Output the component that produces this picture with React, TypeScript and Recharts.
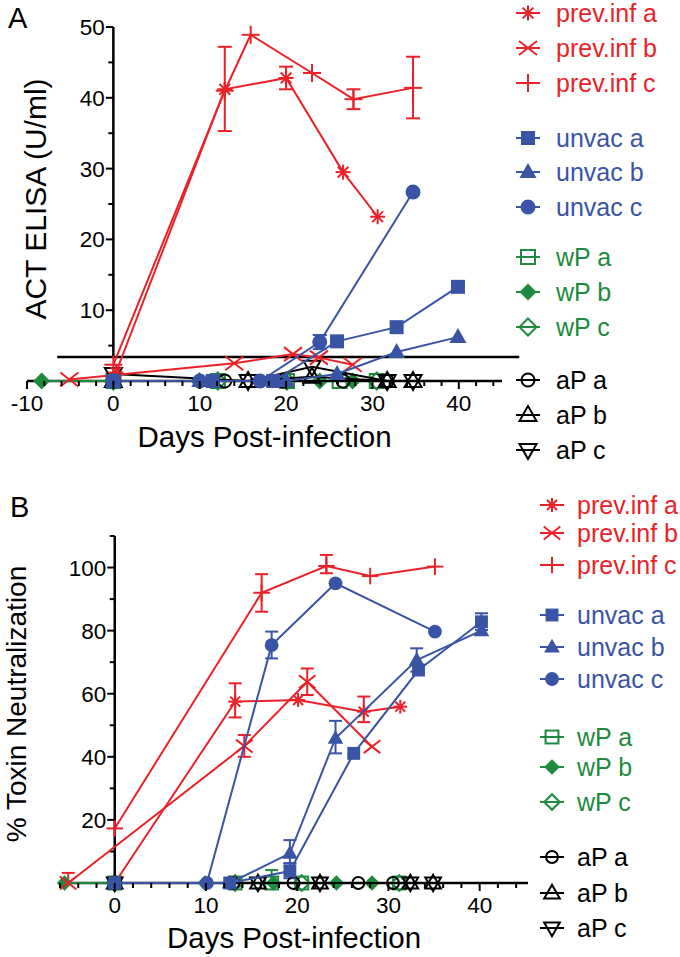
import React from 'react';
import { ScatterChart, Scatter, XAxis, YAxis, ErrorBar, ReferenceLine, Legend } from 'recharts';

// [day, value, error low, error high]
type Pt = [number, number, number?, number?];

// ---- panel A: ACT ELISA (U/ml)
const elisaPrevInfA: Pt[] = [[0.3, 1.2], [12.9, 41.2, 35.3, 47.2], [20, 42.8, 41.2, 44.4], [26.6, 29.5], [30.6, 23.2]];
const elisaPrevInfB: Pt[] = [[-5.1, 0.2], [14, 2.5], [20.8, 3.8], [23.8, 3.3], [27.7, 2.3]];
const elisaPrevInfC: Pt[] = [[0, 2.3], [12.9, 41], [15.9, 48.9], [23, 43.5], [27.8, 39.8, 38.4, 41.2], [34.7, 41.4, 37.1, 45.8]];
const elisaUnvacA: Pt[] = [[0, 0], [11.5, 0], [18.5, 0], [25.9, 5.6], [32.8, 7.6], [39.9, 13.3]];
const elisaUnvacB: Pt[] = [[0, 0], [10, 0], [20, 0], [25.9, 1.0], [32.8, 4.1], [39.9, 6.2]];
const elisaUnvacC: Pt[] = [[0, 0], [10, 0], [17, 0], [23.9, 5.5, 4.5, 6.5], [34.7, 26.7]];
const elisaWpA: Pt[] = [[0, 0], [12.1, 0], [20.1, 0], [26.2, 0], [30.5, 0]];
const elisaWpB: Pt[] = [[-8.3, 0], [9.9, 0], [23.9, 0], [27.7, 0]];
const elisaWpC: Pt[] = [[0, 0], [12.1, 0], [20.1, 0], [30.5, 0]];
const elisaApA: Pt[] = [[0, 0], [12.9, 0], [19.6, 0], [26.6, 0], [31.7, 0]];
const elisaApB: Pt[] = [[0, 0], [15.6, 0], [23, 0.6], [31.7, 0], [34.7, 0]];
const elisaApC: Pt[] = [[0, 1], [15.6, 0], [23, 2.0], [31.7, 0], [34.7, 0]];
const elisaLod = 3.4;

const elisaXTicks = [-10, -8, -6, -4, -2, 0, 2, 4, 6, 8, 10, 12, 14, 16, 18, 20, 22, 24, 26, 28, 30, 32, 34, 36, 38, 40, 42, 44];
const elisaXLabels = [-10, 0, 10, 20, 30, 40];
const elisaYTicks = [5, 10, 15, 20, 25, 30, 35, 40, 45, 50];
const elisaYLabels = [10, 20, 30, 40, 50];

// ---- panel B: % Toxin Neutralization
const neutPrevInfA: Pt[] = [[0, 0], [13.2, 57.5, 52.5, 63.3], [20.1, 58], [27.3, 54.3, 51, 59.1], [31.3, 55.9]];
const neutPrevInfB: Pt[] = [[-5.1, 0, 0, 3.2], [14.2, 43.4, 40, 46.9], [21.1, 63.8, 59.6, 68], [28.2, 43.2]];
const neutPrevInfC: Pt[] = [[0, 17.3], [16.1, 92, 86, 97.9], [23.2, 100.5, 98.2, 104], [28, 97.3], [35.1, 100.3]];
const neutUnvacA: Pt[] = [[0, 0], [12.6, 0], [19.2, 3.8, 1.5, 6.3], [26.2, 41.1], [33.3, 67.5], [40.2, 82.8, 80.2, 85.5]];
const neutUnvacB: Pt[] = [[0, 0], [12.6, 0], [19.2, 9.4, 6.2, 13.6], [24.2, 45.9, 41.1, 51.4], [33.1, 70.7, 67, 74.4], [40.2, 80]];
const neutUnvacC: Pt[] = [[0, 0], [10.1, 0], [17.2, 75.4, 71.2, 79.7], [24.2, 95], [35.1, 79.7]];
const neutWpA: Pt[] = [[0, 0], [13.2, 0], [17.2, 0, 0, 4.1], [20.5, 0], [31.2, 0]];
const neutWpB: Pt[] = [[-5.5, 0], [9.9, 0], [17.4, 0], [24.3, 0], [28.2, 0]];
const neutWpC: Pt[] = [[0, 0], [13.2, 0], [20.5, 0], [31.2, 0]];
const neutApA: Pt[] = [[0, 0], [13, 0], [19.6, 0], [26.7, 0], [30.5, 0]];
const neutApB: Pt[] = [[0, 0], [15.7, 0], [22.5, 0], [32.4, 0], [34.9, 0]];
const neutApC: Pt[] = [[0, 0], [15.7, 0], [22.5, 0], [32.4, 0], [34.9, 0]];

const neutXTicks = [-6, -4, -2, 0, 2, 4, 6, 8, 10, 12, 14, 16, 18, 20, 22, 24, 26, 28, 30, 32, 34, 36, 38, 40, 42, 44];
const neutXLabels = [0, 10, 20, 30, 40];
const neutYTicks = [10, 20, 30, 40, 50, 60, 70, 80, 90, 100, 110];
const neutYLabels = [20, 40, 60, 80, 100];

// ---- series
const seriesNames = ['prev.inf a', 'prev.inf b', 'prev.inf c', 'unvac a', 'unvac b', 'unvac c', 'wP a', 'wP b', 'wP c', 'aP a', 'aP b', 'aP c'];

const FONT = '"Liberation Sans", Arial, Helvetica, sans-serif';
const RED = '#ea2128';
const BLUE = '#3a54a5';
const GREEN = '#1d8a3e';
const BLACK = '#000000';

type Kind = 'asterisk' | 'cross' | 'plus' | 'square' | 'triangle' | 'circle' | 'openSquare' | 'diamond' | 'openDiamond' | 'openCircle' | 'openTriangle' | 'openTriangleDown';
const seriesKinds: Kind[] = ['asterisk', 'cross', 'plus', 'square', 'triangle', 'circle', 'openSquare', 'diamond', 'openDiamond', 'openCircle', 'openTriangle', 'openTriangleDown'];
const seriesColors = [RED, RED, RED, BLUE, BLUE, BLUE, GREEN, GREEN, GREEN, BLACK, BLACK, BLACK];
const drawOrder = [6, 7, 8, 9, 10, 11, 0, 1, 2, 3, 4, 5];

const elisaSeries = [elisaPrevInfA, elisaPrevInfB, elisaPrevInfC, elisaUnvacA, elisaUnvacB, elisaUnvacC, elisaWpA, elisaWpB, elisaWpC, elisaApA, elisaApB, elisaApC];
const neutSeries = [neutPrevInfA, neutPrevInfB, neutPrevInfC, neutUnvacA, neutUnvacB, neutUnvacC, neutWpA, neutWpB, neutWpC, neutApA, neutApB, neutApC];

const toRows = (pts: Pt[]) =>
  pts.map(([x, y, lo, hi]) => ({ x, y, err: lo === undefined || hi === undefined ? undefined : [y - lo, hi - y] }));

function Marker({ kind, cx, cy, color, k = 1 }: { kind: Kind; cx?: number; cy?: number; color: string; k?: number }) {
  if (cx == null || cy == null) return null;
  const sw = 2;
  switch (kind) {
    case 'asterisk': {
      const r = 7.5 * k;
      const d = r * 0.72;
      return (
        <g stroke={color} strokeWidth={sw}>
          <line x1={cx - r} y1={cy} x2={cx + r} y2={cy} />
          <line x1={cx} y1={cy - r} x2={cx} y2={cy + r} />
          <line x1={cx - d} y1={cy - d} x2={cx + d} y2={cy + d} />
          <line x1={cx - d} y1={cy + d} x2={cx + d} y2={cy - d} />
        </g>
      );
    }
    case 'cross': {
      const rx = 9 * k;
      const ry = 7 * k;
      return (
        <g stroke={color} strokeWidth={sw}>
          <line x1={cx - rx} y1={cy - ry} x2={cx + rx} y2={cy + ry} />
          <line x1={cx - rx} y1={cy + ry} x2={cx + rx} y2={cy - ry} />
        </g>
      );
    }
    case 'plus': {
      const r = 9 * k;
      return (
        <g stroke={color} strokeWidth={sw}>
          <line x1={cx - r} y1={cy} x2={cx + r} y2={cy} />
          <line x1={cx} y1={cy - r} x2={cx} y2={cy + r} />
        </g>
      );
    }
    case 'square':
    case 'openSquare': {
      const h = 7 * k;
      const open = kind === 'openSquare';
      return <rect x={cx - h} y={cy - h} width={2 * h} height={2 * h} fill={open ? 'none' : color} stroke={color} strokeWidth={open ? sw : 0} />;
    }
    case 'circle':
      return <circle cx={cx} cy={cy} r={7.5 * k} fill={color} />;
    case 'openCircle':
      return <circle cx={cx} cy={cy} r={6.5 * k} fill="none" stroke={color} strokeWidth={sw} />;
    case 'triangle':
    case 'openTriangle': {
      const w = 8.5 * k;
      const open = kind === 'openTriangle';
      const pts = `${cx},${cy - 9 * k} ${cx - w},${cy + 6 * k} ${cx + w},${cy + 6 * k}`;
      return <polygon points={pts} fill={open ? 'none' : color} stroke={color} strokeWidth={open ? sw : 0} />;
    }
    case 'openTriangleDown': {
      const w = 8.5 * k;
      const pts = `${cx},${cy + 9 * k} ${cx - w},${cy - 6 * k} ${cx + w},${cy - 6 * k}`;
      return <polygon points={pts} fill="none" stroke={color} strokeWidth={sw} />;
    }
    case 'diamond':
    case 'openDiamond': {
      const r = 8.5 * k;
      const open = kind === 'openDiamond';
      const pts = `${cx},${cy - r} ${cx + r},${cy} ${cx},${cy + r} ${cx - r},${cy}`;
      return <polygon points={pts} fill={open ? 'none' : color} stroke={color} strokeWidth={open ? sw : 0} />;
    }
  }
  return null;
}

const LegendBlock = ({ rows, mx, tx, k, height }: { rows: number[]; mx: number; tx: number; k: number; height: number }) => (
  <svg width={180} height={height} style={{ display: 'block' }}>
    {seriesNames.map((name, i) => (
      <g key={name}>
        <line x1={mx - 12} x2={mx + 12} y1={rows[i]} y2={rows[i]} stroke={seriesColors[i]} strokeWidth={2} />
        <Marker kind={seriesKinds[i]} cx={mx} cy={rows[i]} color={seriesColors[i]} k={k} />
        <text x={tx} y={rows[i] + 9} fill={seriesColors[i]} fontSize={25} fontFamily={FONT}>
          {name}
        </text>
      </g>
    ))}
  </svg>
);

type PanelProps = {
  top: number;
  height: number;
  margin: { top: number; right: number; bottom: number; left: number };
  xDomain: [number, number];
  yDomain: [number, number];
  xTicks: number[];
  xLabels: number[];
  yTicks: number[];
  yLabels: number[];
  yAxisFrom: number;
  series: Pt[][];
  letter: string;
  letterY: number;
  yTitle: string;
  yTitleX: number;
  yTitleY: number;
  yTitleSize: number;
  xTitleOffset: number;
  legendLeft: number;
  legendRows: number[];
  legendMx: number;
  legendTx: number;
  k: number;
  capW: number;
  lod?: number;
};

const W = 680;

function Panel(p: PanelProps) {
  const plotW = W - p.margin.left - p.margin.right;
  const pxPerDay = plotW / (p.xDomain[1] - p.xDomain[0]);

  const XTick = (props: any) => {
    const v = props.payload.value;
    const major = p.xLabels.includes(v);
    return (
      <g>
        <line x1={props.x} x2={props.x} y1={props.y} y2={props.y + (major ? 8 : 5)} stroke="#000" strokeWidth={2} />
        {major && (
          <text x={props.x} y={props.y + 30} textAnchor="middle" fontSize={22.5} fontFamily={FONT} fill="#000">
            {v}
          </text>
        )}
      </g>
    );
  };

  return (
    <div style={{ position: 'absolute', left: 0, top: p.top, width: W, height: p.height }}>
      <ScatterChart width={W} height={p.height} margin={p.margin}>
        <XAxis
          type="number"
          dataKey="x"
          domain={p.xDomain}
          ticks={p.xTicks}
          interval={0}
          tick={XTick}
          tickLine={false}
          tickSize={0}
          tickMargin={0}
          height={70}
          axisLine={{ stroke: '#000', strokeWidth: 2.5 }}
          label={{ value: 'Days Post-infection', position: 'insideBottom', offset: p.xTitleOffset, fontSize: 29.5, fill: '#000', fontFamily: FONT }}
        />
        <YAxis type="number" dataKey="y" domain={p.yDomain} hide />

        {/* y axis drawn at day 0 */}
        <ReferenceLine
          segment={[{ x: 0, y: p.yAxisFrom }, { x: 0, y: p.yDomain[1] }]}
          stroke="#000"
          strokeWidth={2.5}
          ifOverflow="visible"
        />
        {p.yTicks.map((t) => {
          const major = p.yLabels.includes(t);
          const len = (major ? 7.5 : 5) / pxPerDay;
          return (
            <ReferenceLine
              key={`yt${t}`}
              segment={[{ x: -len, y: t }, { x: 0, y: t }]}
              stroke="#000"
              strokeWidth={2}
              ifOverflow="visible"
              label={major ? { value: String(t), position: 'left', offset: 1, fontSize: 22.5, fill: '#000', fontFamily: FONT } : undefined}
            />
          );
        })}
        {p.lod !== undefined && (
          <ReferenceLine
            segment={[{ x: -6.5, y: p.lod }, { x: 47, y: p.lod }]}
            stroke="#000"
            strokeWidth={2.5}
            ifOverflow="visible"
          />
        )}

        {drawOrder.map((i) => (
          <Scatter
            key={seriesNames[i]}
            name={seriesNames[i]}
            data={toRows(p.series[i])}
            fill={seriesColors[i]}
            line={{ stroke: seriesColors[i], strokeWidth: 2 }}
            shape={(sp: any) => <Marker kind={seriesKinds[i]} cx={sp.cx} cy={sp.cy} color={seriesColors[i]} k={p.k} />}
            isAnimationActive={false}
          >
            <ErrorBar dataKey="err" direction="y" width={p.capW} stroke={seriesColors[i]} strokeWidth={2} />
          </Scatter>
        ))}

        <Legend
          layout="vertical"
          align="center"
          verticalAlign="middle"
          wrapperStyle={{ left: p.legendLeft, top: 0, width: 180, height: p.height }}
          content={() => <LegendBlock rows={p.legendRows} mx={p.legendMx} tx={p.legendTx} k={p.k} height={p.height} />}
        />

        <text x={p.letter === 'A' ? 8 : 10} y={p.letterY} fontSize={29} fontFamily={FONT} fill="#000">
          {p.letter}
        </text>
        <text
          transform="rotate(-90)"
          x={-p.yTitleY}
          y={p.yTitleX}
          textAnchor="middle"
          fontSize={p.yTitleSize}
          fontFamily={FONT}
          fill="#000"
        >
          {p.yTitle}
        </text>
      </ScatterChart>
    </div>
  );
}

export default function App() {
  return (
    <div style={{ position: 'absolute', left: 0, top: 0, width: 680, height: 957, background: '#fff', fontFamily: FONT }}>
      <Panel
        top={0}
        height={470}
        margin={{ top: 27, right: 178, bottom: 19, left: 27 }}
        xDomain={[-10, 45]}
        yDomain={[0, 50]}
        xTicks={elisaXTicks}
        xLabels={elisaXLabels}
        yTicks={elisaYTicks}
        yLabels={elisaYLabels}
        yAxisFrom={elisaLod}
        series={elisaSeries}
        letter="A"
        letterY={28}
        yTitle="ACT ELISA (U/ml)"
        yTitleX={46}
        yTitleY={199}
        yTitleSize={30}
        xTitleOffset={4}
        legendLeft={505}
        legendRows={[13, 48, 83, 138, 172, 207, 257, 292, 327, 380, 415, 450]}
        legendMx={23}
        legendTx={51}
        k={1}
        capW={7}
        lod={elisaLod}
      />
      <Panel
        top={470}
        height={487}
        margin={{ top: 66, right: 152, bottom: 4, left: 60 }}
        xDomain={[-6, 45.3]}
        yDomain={[0, 110]}
        xTicks={neutXTicks}
        xLabels={neutXLabels}
        yTicks={neutYTicks}
        yLabels={neutYLabels}
        yAxisFrom={0}
        series={neutSeries}
        letter="B"
        letterY={47}
        yTitle="% Toxin Neutralization"
        yTitleX={26}
        yTitleY={234}
        yTitleSize={28}
        xTitleOffset={5}
        legendLeft={530}
        legendRows={[35, 63, 95, 145, 177, 209, 267, 297, 332, 387, 423, 458]}
        legendMx={22}
        legendTx={47}
        k={0.92}
        capW={6.5}
      />
    </div>
  );
}
